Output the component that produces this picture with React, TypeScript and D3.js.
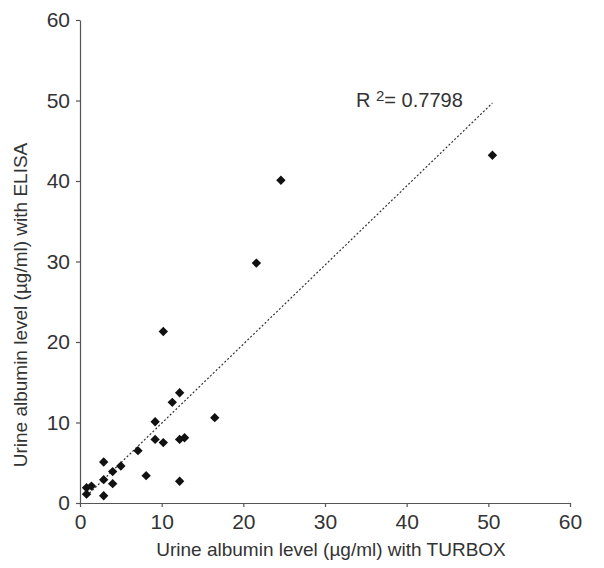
import React, { useRef, useEffect } from "react";
import * as d3 from "d3";

// TURBOX (x) vs ELISA (y), µg/ml
const turbox = [50.5, 24.6, 21.6, 10.2, 12.2, 11.3, 16.5, 9.2, 9.2, 10.2, 12.2, 12.8, 7.1, 2.9, 5.0, 4.0, 2.9, 8.1, 4.0, 12.2, 0.8, 1.4, 0.8, 2.9];
const elisa = [43.2, 40.1, 29.8, 21.3, 13.7, 12.5, 10.6, 10.1, 7.9, 7.5, 7.9, 8.1, 6.5, 5.1, 4.6, 3.9, 2.9, 3.4, 2.4, 2.7, 1.9, 2.1, 1.1, 0.9];
const tickValues = [0, 10, 20, 30, 40, 50, 60];
const r2Label = "0.7798";

const W = 604;
const H = 568;

const App = () => {
  const svgRef = useRef<SVGSVGElement>(null);

  useEffect(() => {
    document.body.style.margin = "0";
    const svg = d3.select(svgRef.current);
    svg.selectAll("*").remove();

    const font = "'Liberation Sans', Arial, sans-serif";
    const x = d3.scaleLinear().domain([0, 60]).range([80, 570]);
    const y = d3.scaleLinear().domain([0, 60]).range([503, 20]);

    const pts = turbox.map((v, i) => ({ x: v, y: elisa[i] }));

    // axes
    const xAxis = svg
      .append("g")
      .attr("transform", `translate(0,${y(0)})`)
      .call(d3.axisBottom(x).tickValues(tickValues).tickSizeInner(4).tickSizeOuter(0).tickPadding(7));
    const yAxis = svg
      .append("g")
      .attr("transform", `translate(${x(0)},0)`)
      .call(d3.axisLeft(y).tickValues(tickValues).tickSizeInner(4).tickSizeOuter(0).tickPadding(6));

    [xAxis, yAxis].forEach((g) => {
      g.select(".domain").attr("stroke", "#555").attr("stroke-width", 1.2);
      g.selectAll(".tick line").attr("stroke", "#555").attr("stroke-width", 1.2);
      g.selectAll(".tick text")
        .attr("fill", "#333")
        .style("font-family", font)
        .style("font-size", "21px");
    });

    // linear trend line (least squares)
    const mx = d3.mean(pts, (d) => d.x)!;
    const my = d3.mean(pts, (d) => d.y)!;
    const sxy = d3.sum(pts, (d) => (d.x - mx) * (d.y - my));
    const sxx = d3.sum(pts, (d) => (d.x - mx) ** 2);
    const slope = sxy / sxx;
    const icpt = my - slope * mx;
    const [x0, x1] = d3.extent(pts, (d) => d.x) as [number, number];

    svg
      .append("line")
      .attr("x1", x(x0))
      .attr("y1", y(icpt + slope * x0))
      .attr("x2", x(x1))
      .attr("y2", y(icpt + slope * x1))
      .attr("stroke", "#333")
      .attr("stroke-width", 1.2)
      .attr("stroke-dasharray", "2,2");

    // diamond markers
    const diamond = d3.symbol().type(d3.symbolSquare).size(44);
    svg
      .append("g")
      .selectAll("path")
      .data(pts)
      .enter()
      .append("path")
      .attr("d", diamond)
      .attr("transform", (d) => `translate(${x(d.x)},${y(d.y)}) rotate(45)`)
      .attr("fill", "#111");

    // R² label
    const r2 = svg
      .append("text")
      .attr("x", 356)
      .attr("y", 107)
      .attr("fill", "#333")
      .style("font-family", font)
      .style("font-size", "20px");
    r2.append("tspan").text("R ");
    r2.append("tspan").attr("dy", -6).style("font-size", "15px").text("2");
    r2.append("tspan").attr("dy", 6).text(`= ${r2Label}`);

    // axis titles
    svg
      .append("text")
      .attr("x", 331)
      .attr("y", 556)
      .attr("text-anchor", "middle")
      .attr("fill", "#333")
      .style("font-family", font)
      .style("font-size", "19px")
      .text("Urine albumin level (µg/ml) with TURBOX");

    svg
      .append("text")
      .attr("transform", `translate(27,305) rotate(-90)`)
      .attr("text-anchor", "middle")
      .attr("fill", "#333")
      .style("font-family", font)
      .style("font-size", "19px")
      .text("Urine albumin level (µg/ml) with ELISA");
  }, []);

  return <svg ref={svgRef} width={W} height={H} style={{ display: "block", background: "#fff" }} />;
};

export default App;
